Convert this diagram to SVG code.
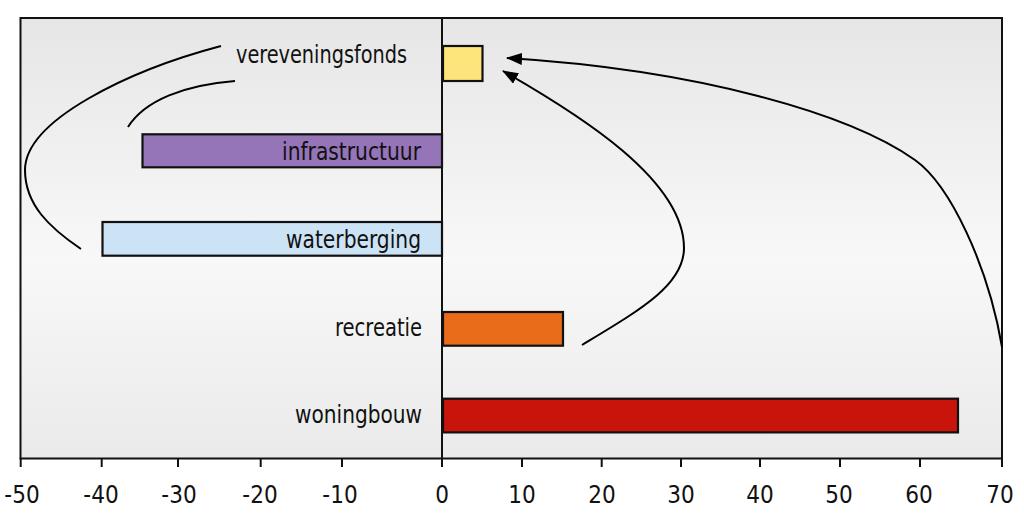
<svg xmlns="http://www.w3.org/2000/svg" width="1024" height="532" viewBox="0 0 1024 532">
<defs>
<linearGradient id="bg" x1="0" y1="0" x2="0" y2="1">
<stop offset="0" stop-color="#e6e6e6"/>
<stop offset="0.55" stop-color="#f8f8f8"/>
<stop offset="1" stop-color="#eaeaea"/>
</linearGradient>
<marker id="arr" viewBox="0 0 16 12" refX="15" refY="6" markerWidth="16" markerHeight="12" markerUnits="userSpaceOnUse" orient="auto">
<path d="M0,0 L16,6 L0,12 Z" fill="#000"/>
</marker>
<style>
.bar{stroke:#111;stroke-width:2.2}
.lbl{font-family:"DejaVu Sans Condensed","DejaVu Sans",sans-serif;font-size:25px;fill:#111;text-anchor:end}
.tick{font-family:"DejaVu Sans Condensed","DejaVu Sans",sans-serif;font-size:24px;fill:#111;text-anchor:middle}
.conn{fill:none;stroke:#000;stroke-width:2}
</style>
</defs>
<rect x="0" y="0" width="1024" height="532" fill="#ffffff"/>
<g id="plot">
<rect x="20.5" y="18" width="981.5" height="440.5" fill="url(#bg)" stroke="#111" stroke-width="2"/>
<line x1="442" y1="18" x2="442" y2="467" stroke="#111" stroke-width="2"/>
</g>
<g id="axis" stroke="#111" stroke-width="2">
<line x1="20.7" y1="458" x2="20.7" y2="467"/>
<line x1="101.7" y1="458" x2="101.7" y2="467"/>
<line x1="178" y1="458" x2="178" y2="467"/>
<line x1="260.7" y1="458" x2="260.7" y2="467"/>
<line x1="342" y1="458" x2="342" y2="467"/>
<line x1="522" y1="458" x2="522" y2="467"/>
<line x1="601.7" y1="458" x2="601.7" y2="467"/>
<line x1="681" y1="458" x2="681" y2="467"/>
<line x1="760" y1="458" x2="760" y2="467"/>
<line x1="840" y1="458" x2="840" y2="467"/>
<line x1="920" y1="458" x2="920" y2="467"/>
<line x1="1002" y1="458" x2="1002" y2="467"/>
</g>
<g id="ticklabels">
<text class="tick" x="22" y="503">-50</text>
<text class="tick" x="101" y="503">-40</text>
<text class="tick" x="179" y="503">-30</text>
<text class="tick" x="260" y="503">-20</text>
<text class="tick" x="340" y="503">-10</text>
<text class="tick" x="442" y="503">0</text>
<text class="tick" x="522" y="503">10</text>
<text class="tick" x="602" y="503">20</text>
<text class="tick" x="681" y="503">30</text>
<text class="tick" x="760" y="503">40</text>
<text class="tick" x="839" y="503">50</text>
<text class="tick" x="919" y="503">60</text>
<text class="tick" x="1000" y="503">70</text>
</g>
<g id="vereveningsfonds">
<rect class="bar" x="443" y="46" width="39.5" height="35" fill="#fde47b"/>
<text class="lbl" x="407" y="63" textLength="171" lengthAdjust="spacingAndGlyphs">vereveningsfonds</text>
</g>
<g id="infrastructuur">
<rect class="bar" x="142.5" y="134.3" width="299.5" height="33" fill="#9574b8"/>
<text class="lbl" x="421" y="160" textLength="139" lengthAdjust="spacingAndGlyphs">infrastructuur</text>
</g>
<g id="waterberging">
<rect class="bar" x="102.5" y="222" width="339.5" height="33.7" fill="#cce3f5"/>
<text class="lbl" x="421" y="248" textLength="135" lengthAdjust="spacingAndGlyphs">waterberging</text>
</g>
<g id="recreatie">
<rect class="bar" x="443" y="312" width="120" height="33.7" fill="#e96c1a"/>
<text class="lbl" x="422" y="336" textLength="87" lengthAdjust="spacingAndGlyphs">recreatie</text>
</g>
<g id="woningbouw">
<rect class="bar" x="443" y="398.7" width="515" height="33.7" fill="#c8140a"/>
<text class="lbl" x="422" y="423" textLength="127" lengthAdjust="spacingAndGlyphs">woningbouw</text>
</g>
<g id="connectors">
<path class="conn" d="M1002,347 C988,265 950,185 915,160 C850,114 700,70 507,58" marker-end="url(#arr)"/>
<path class="conn" d="M582,345 C640,310 684,285 684,248 C684,180 580,115 503,71" marker-end="url(#arr)"/>
<path class="conn" d="M221,46 C130,70 25,120 25,170 C25,205 50,228 81,249"/>
<path class="conn" d="M235,81 C185,85 145,100 128,127"/>
</g>
</svg>
